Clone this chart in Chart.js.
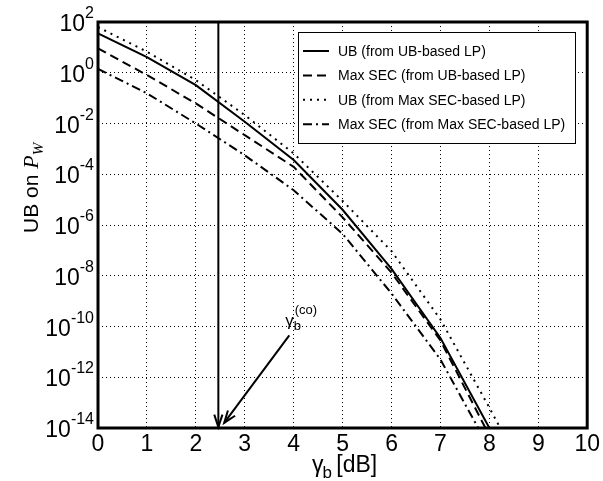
<!DOCTYPE html>
<html><head><meta charset="utf-8">
<script src="https://cdn.jsdelivr.net/npm/chart.js@4/dist/chart.umd.min.js"></script>
<style>html,body{margin:0;padding:0;background:#fff;} #wrap{width:603px;height:481px;}</style>
</head><body><div id="wrap"><canvas id="c" width="603" height="481"></canvas></div>
<script>
// ---- data ----
const gammaDb       = [0, 1, 2, 3, 4, 5, 6, 7, 8];
const gammaDbLong   = [0, 1, 2, 3, 4, 5, 6, 7, 8, 8.25];
const ubFromUbLp      = [35.5, 4.17, 0.324, 0.01175, 3.63e-4, 3.98e-6, 1.86e-8, 3.55e-11, 1e-14];
const maxSecFromUbLp  = [9.12, 0.813, 0.0617, 3.47e-3, 1.95e-4, 2.0e-6, 1.32e-8, 2.82e-11, 5.0e-15];
const ubFromSecLp     = [63, 6.76, 0.513, 0.0214, 6.6e-4, 8.9e-6, 9.3e-8, 1.9e-10, 6.3e-14, 7.9e-15];
const maxSecFromSecLp = [1.41, 0.155, 0.01, 5.6e-4, 2.34e-5, 4.5e-7, 2.0e-9, 5.0e-12, 1.6e-15];
const seriesLabels = ['UB (from UB-based LP)', 'Max SEC (from UB-based LP)', 'UB (from Max SEC-based LP)', 'Max SEC (from Max SEC-based LP)'];
const yTickExponents = [2, 0, -2, -4, -6, -8, -10, -12, -14];
const xTickValues = [0,1,2,3,4,5,6,7,8,9,10];
const cutoffDb = 2.46;
const annotArrowFrom = [3.91, 1e-10 / Math.pow(10, 0.35)];
const annotArrowTo   = [2.58, 1e-14 * Math.pow(10, 0.2)];

const pts = (xs, ys) => ys.map((y, i) => ({x: xs[i], y}));
const dashes = [[], [9,5], [2,5], [9,4,2,4]];

const SANS = '"Liberation Sans", Arial, Helvetica, sans-serif';
const SERIF = '"Liberation Serif", "Times New Roman", serif';

function arrowHead(ctx, x1, y1, x2, y2, len, ang) {
  const a = Math.atan2(y2 - y1, x2 - x1);
  ctx.beginPath();
  ctx.moveTo(x2 - len*Math.cos(a - ang), y2 - len*Math.sin(a - ang));
  ctx.lineTo(x2, y2);
  ctx.lineTo(x2 - len*Math.cos(a + ang), y2 - len*Math.sin(a + ang));
  ctx.stroke();
}

const decor = {
  id: 'decor',
  afterDatasetsDraw(chart) {
    const ctx = chart.ctx, ca = chart.chartArea;
    const xs = chart.scales.x, ys = chart.scales.y;
    ctx.save();
    ctx.setLineDash([]);
    ctx.strokeStyle = '#000'; ctx.fillStyle = '#000';
    // annotation: cutoff vertical line with arrow
    const vx = xs.getPixelForValue(cutoffDb);
    ctx.lineWidth = 2;
    ctx.beginPath(); ctx.moveTo(vx, ca.top); ctx.lineTo(vx, ca.bottom - 1); ctx.stroke();
    arrowHead(ctx, vx, ca.top, vx, ca.bottom - 1, 13, 0.32);
    // diagonal arrow
    const ax1 = xs.getPixelForValue(annotArrowFrom[0]), ay1 = ys.getPixelForValue(annotArrowFrom[1]);
    const ax2 = xs.getPixelForValue(annotArrowTo[0]), ay2 = ys.getPixelForValue(annotArrowTo[1]);
    ctx.beginPath(); ctx.moveTo(ax1, ay1); ctx.lineTo(ax2, ay2); ctx.stroke();
    arrowHead(ctx, ax1, ay1, ax2, ay2, 13, 0.35);
    // label gamma_b^(co)
    ctx.textBaseline = 'alphabetic'; ctx.textAlign = 'left';
    ctx.font = '17px ' + SANS;
    const gx = ax1 - 4, gy = ay1 - 9;
    ctx.fillText('γ', gx, gy);
    const gw = ctx.measureText('γ').width;
    ctx.font = '13px ' + SANS;
    ctx.fillText('b', gx + gw, gy + 4);
    ctx.fillText('(co)', gx + gw + 1, gy - 12);

    // legend
    const lx = 298, ly = 32, lw = 277, lh = 111;
    ctx.fillStyle = '#fff';
    ctx.fillRect(lx, ly, lw, lh);
    ctx.lineWidth = 1;
    ctx.strokeRect(lx + 0.5, ly + 0.5, lw, lh);
    ctx.fillStyle = '#000';
    ctx.font = '14px ' + SANS;
    ctx.textBaseline = 'middle';
    chart.data.datasets.forEach((ds, i) => {
      const y = 51 + i * 24.4;
      ctx.save();
      ctx.lineWidth = 2;
      ctx.setLineDash(ds.borderDash || []);
      ctx.beginPath(); ctx.moveTo(303, y); ctx.lineTo(329, y); ctx.stroke();
      ctx.restore();
      ctx.fillText(ds.label, 338, y + 1);
    });

    // frame
    ctx.lineWidth = 3;
    ctx.setLineDash([]);
    ctx.strokeRect(ca.left, ca.top, ca.right - ca.left, ca.bottom - ca.top);

    // y tick labels with superscripts
    ctx.textBaseline = 'alphabetic';
    ys.ticks.forEach(t => {
      const e = Math.round(Math.log10(t.value));
      const py = ys.getPixelForValue(t.value);
      ctx.font = '16px ' + SANS;
      const es = String(e);
      const ew = ctx.measureText(es).width;
      ctx.font = '23px ' + SANS;
      const bw = ctx.measureText('10').width;
      const right = ca.left - 4;
      ctx.fillText('10', right - ew - bw, py + 9);
      ctx.font = '16px ' + SANS;
      ctx.fillText(es, right - ew, py - 4);
    });

    // x title gamma_b [dB]
    ctx.font = '23px ' + SANS;
    let tx = 312, ty = 472;
    ctx.fillText('γ', tx, ty);
    tx += ctx.measureText('γ').width;
    ctx.font = '17px ' + SANS;
    ctx.fillText('b', tx - 1, ty + 6);
    tx += ctx.measureText('b').width - 1;
    ctx.font = '23px ' + SANS;
    ctx.fillText(' [dB]', tx - 2, ty);

    // y title UB on P_W
    ctx.save();
    ctx.translate(38, 233);
    ctx.rotate(-Math.PI / 2);
    ctx.font = '21px ' + SANS;
    let sx = 0;
    ctx.fillText('UB on ', sx, 0);
    sx += ctx.measureText('UB on ').width;
    ctx.font = 'italic 22px ' + SERIF;
    ctx.fillText('P', sx, 0);
    sx += ctx.measureText('P').width;
    ctx.font = 'italic 15px ' + SERIF;
    ctx.fillText('W', sx, 5);
    ctx.restore();

    ctx.restore();
  }
};

new Chart(document.getElementById('c'), {
  type: 'line',
  data: {
    datasets: [ubFromUbLp, maxSecFromUbLp, ubFromSecLp, maxSecFromSecLp].map((arr, i) => ({
      label: seriesLabels[i],
      data: pts(i === 2 ? gammaDbLong : gammaDb, arr),
      borderColor: '#000',
      borderWidth: 2,
      borderDash: dashes[i],
      pointRadius: 0,
      tension: 0,
      fill: false
    }))
  },
  options: {
    responsive: false,
    animation: false,
    devicePixelRatio: 1,
    layout: {padding: {top: 22, right: 15, left: 0, bottom: 0}},
    plugins: {legend: {display: false}, tooltip: {enabled: false}},
    scales: {
      x: {
        type: 'linear', min: 0, max: 10,
        afterBuildTicks: s => { s.ticks = xTickValues.map(v => ({value: v})); },
        afterFit: s => { s.height = 53; },
        ticks: {font: {size: 23, family: SANS}, color: '#000', padding: 3, maxRotation: 0, autoSkip: false},
        grid: {color: '#000', lineWidth: 1, drawTicks: false},
        border: {display: false, dash: [1, 3]}
      },
      y: {
        type: 'logarithmic', min: 1e-14, max: 100,
        afterBuildTicks: s => { s.ticks = yTickExponents.map(e => ({value: Math.pow(10, e)})); },
        afterFit: s => { s.width = 98; },
        ticks: {callback: () => '', padding: 0},
        grid: {color: '#000', lineWidth: 1, drawTicks: false},
        border: {display: false, dash: [1, 3]}
      }
    }
  },
  plugins: [decor]
});
</script>
</body></html>
